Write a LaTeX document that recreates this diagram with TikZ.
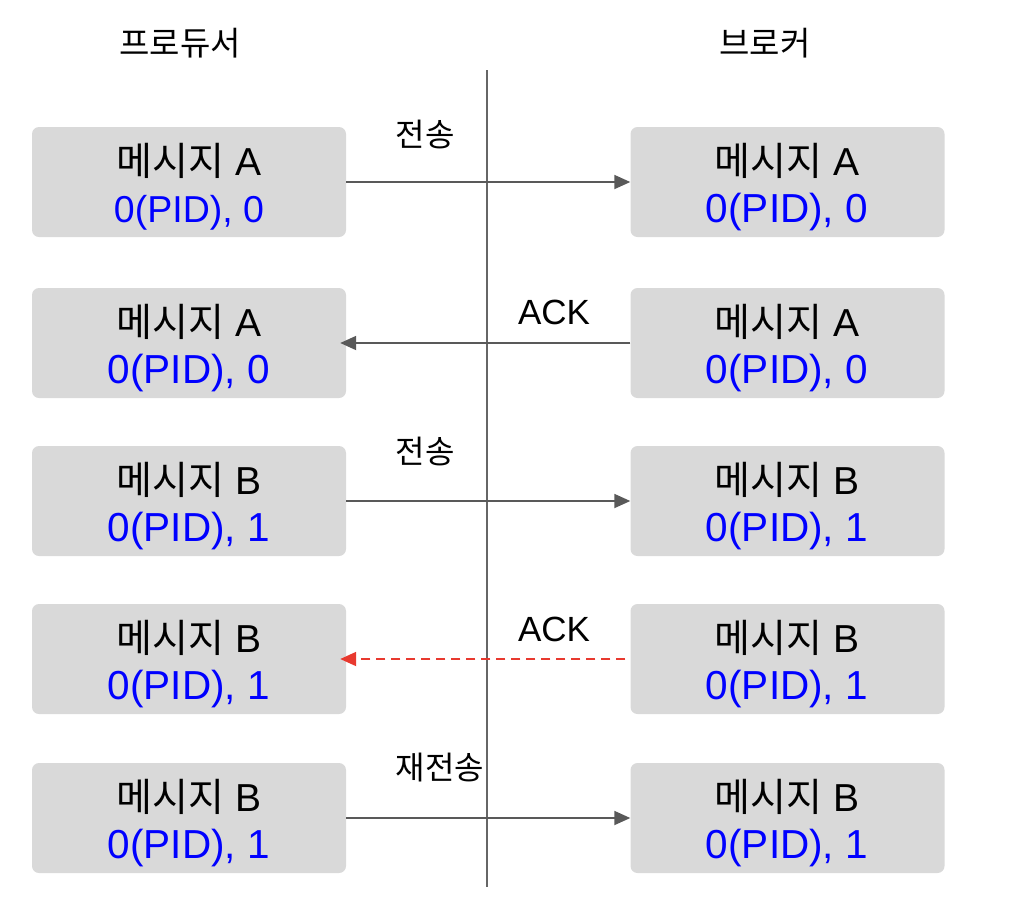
\documentclass[tikz,border=0pt]{standalone}
\usepackage{fontspec}
\setmainfont{Liberation Sans}
\newfontfamily\krfont{Noto Sans CJK KR}
\newcommand{\kr}[1]{{\krfont #1}}
\usetikzlibrary{arrows.meta}
\definecolor{boxgray}{HTML}{D9D9D9}
\definecolor{arrgray}{HTML}{595959}
\definecolor{linegray}{HTML}{666666}
\definecolor{ackred}{HTML}{E8392F}
\definecolor{pidblue}{HTML}{0000FF}
\begin{document}
\begin{tikzpicture}[x=1pt,y=-1pt,
  msgbox/.style={fill=boxgray, rounded corners=7pt, minimum width=314pt, minimum height=110pt, inner sep=0pt},
  blacktxt/.style={font=\fontsize{39}{42}\selectfont, text=black, anchor=base},
  bluetxt/.style={font=\fontsize{40.5}{44}\selectfont, text=pidblue, anchor=base},
  lbl/.style={font=\fontsize{32}{36}\selectfont, anchor=base},
  acklbl/.style={font=\fontsize{35}{38}\selectfont, anchor=base},
  ttl/.style={font=\fontsize{33}{36}\selectfont, anchor=base},
  msgarrow/.style={draw=arrgray, line width=1.8pt, -{Triangle[length=16pt,width=14pt]}, arrgray},
  lostarrow/.style={draw=ackred, line width=1.8pt, dash pattern=on 9pt off 6pt, -{Triangle[length=16pt,width=14pt]}, ackred}
]
\useasboundingbox (0,0) rectangle (1012,922);

% titles
\node[ttl] (tp) at (180,55) {\kr{프로듀서}};
\node[ttl] (tb) at (765,55) {\kr{브로커}};

% boxes
\foreach \i/\cy in {1/182, 2/343, 3/501, 4/659, 5/818}{
  \node[msgbox] (L\i) at (189,\cy) {};
  \node[msgbox] (R\i) at (787.5,\cy) {};
}

% box texts
\node[blacktxt] (L1a) at (189,175) {\kr{메시지} A};
\node[bluetxt, font=\fontsize{37.5}{40}\selectfont] (L1b) at (189,222) {0(PID), 0};
\node[blacktxt] (R1a) at (787,175) {\kr{메시지} A};
\node[bluetxt] (R1b) at (787,222) {0(PID), 0};

\node[blacktxt] (L2a) at (189,336) {\kr{메시지} A};
\node[bluetxt] (L2b) at (189,383) {0(PID), 0};
\node[blacktxt] (R2a) at (787,336) {\kr{메시지} A};
\node[bluetxt] (R2b) at (787,383) {0(PID), 0};

\node[blacktxt] (L3a) at (189,494) {\kr{메시지} B};
\node[bluetxt] (L3b) at (189,541) {0(PID), 1};
\node[blacktxt] (R3a) at (787,494) {\kr{메시지} B};
\node[bluetxt] (R3b) at (787,541) {0(PID), 1};

\node[blacktxt] (L4a) at (189,652) {\kr{메시지} B};
\node[bluetxt] (L4b) at (189,699) {0(PID), 1};
\node[blacktxt] (R4a) at (787,652) {\kr{메시지} B};
\node[bluetxt] (R4b) at (787,699) {0(PID), 1};

\node[blacktxt] (L5a) at (189,811) {\kr{메시지} B};
\node[bluetxt] (L5b) at (189,858) {0(PID), 1};
\node[blacktxt] (R5a) at (787,811) {\kr{메시지} B};
\node[bluetxt] (R5b) at (787,858) {0(PID), 1};

% vertical divider
\coordinate (vtop) at (487,70);
\coordinate (vbot) at (487,887);
\draw[linegray, line width=1.8pt] (vtop) -- (vbot);

% arrows
\draw[msgarrow] (L1.east) -- (R1.west);
\coordinate (L2e) at ([xshift=-6pt]L2.east);
\draw[msgarrow] (R2.west) -- (L2e);
\draw[msgarrow] (L3.east) -- (R3.west);
\coordinate (R4s) at ([xshift=-5pt]R4.west);
\coordinate (L4e) at ([xshift=-6pt]L4.east);
\draw[lostarrow] (R4s) -- (L4e);
\draw[msgarrow] (L5.east) -- (R5.west);

% labels
\node[lbl] (s1) at (425,146) {\kr{전송}};
\node[acklbl] (a2) at (554,324) {ACK};
\node[lbl] (s3) at (425,463) {\kr{전송}};
\node[acklbl] (a4) at (554,641) {ACK};
\node[lbl] (s5) at (440,779) {\kr{재전송}};
\end{tikzpicture}
\end{document}
